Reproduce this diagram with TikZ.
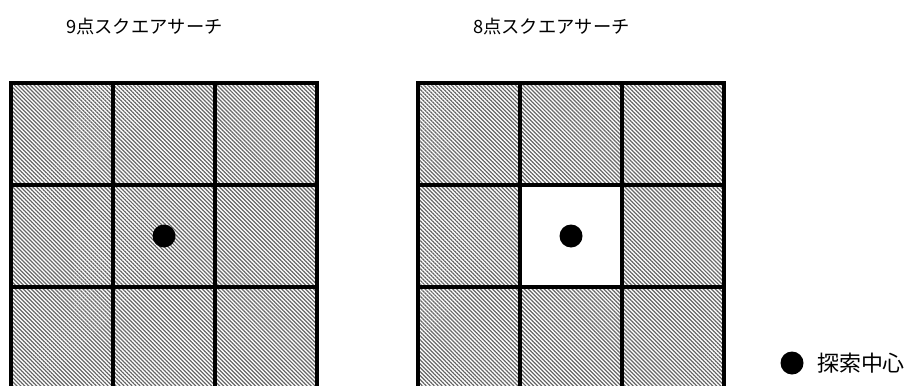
\documentclass[tikz,border=0pt]{standalone}
\usepackage{fontspec}
\setmainfont{Noto Sans CJK JP}
\usetikzlibrary{patterns.meta,positioning,calc}
\tikzset{
  hatch/.style={pattern={Lines[angle=-45,distance=1.6pt,line width=0.7pt]},pattern color=gray!80!black},
  gridline/.style={line width=1.8pt,line cap=rect},
  centre dot/.style={circle,fill=black,inner sep=0pt,minimum size=0.46cm},
  title/.style={anchor=west,font=\fontsize{10.4pt}{12pt}\selectfont}
}
\begin{document}
\begin{tikzpicture}
\useasboundingbox (0,0) rectangle (18.28,7.7);
\coordinate (L) at (0.22,6.04); \coordinate (R) at (8.36,6.04);
% hatched 3x3 blocks, centre of the 8-point one left white
\fill[hatch] (L) rectangle ++(6.12,-6.12);
\fill[hatch] (R) rectangle ++(6.12,-6.12);
\fill[white] ($(R)+(2.04,-2.04)$) rectangle ++(2.04,-2.04);
\foreach \g in {L,R}{
  \foreach \i in {0,1,2,3}{
    \draw[gridline] ($(\g)+(\i*2.04,0)$) -- ++(0,-6.12);
    \draw[gridline] ($(\g)+(0,-\i*2.04)$) -- ++(6.12,0);
  }
}
\node[centre dot] (c9) at ($(L)+(3.06,-3.06)$) {};
\node[centre dot] (c8) at ($(R)+(3.06,-3.06)$) {};
\node[title] (t9) at (1.2,7.16) {9点スクエアサーチ};
\node[title] (t8) at (9.34,7.16) {8点スクエアサーチ};
% legend
\node[centre dot] (key) at (15.84,0.44) {};
\node[right=0.14cm of key,font=\fontsize{12.5pt}{14pt}\selectfont] (keytext) {探索中心};
\end{tikzpicture}
\end{document}
